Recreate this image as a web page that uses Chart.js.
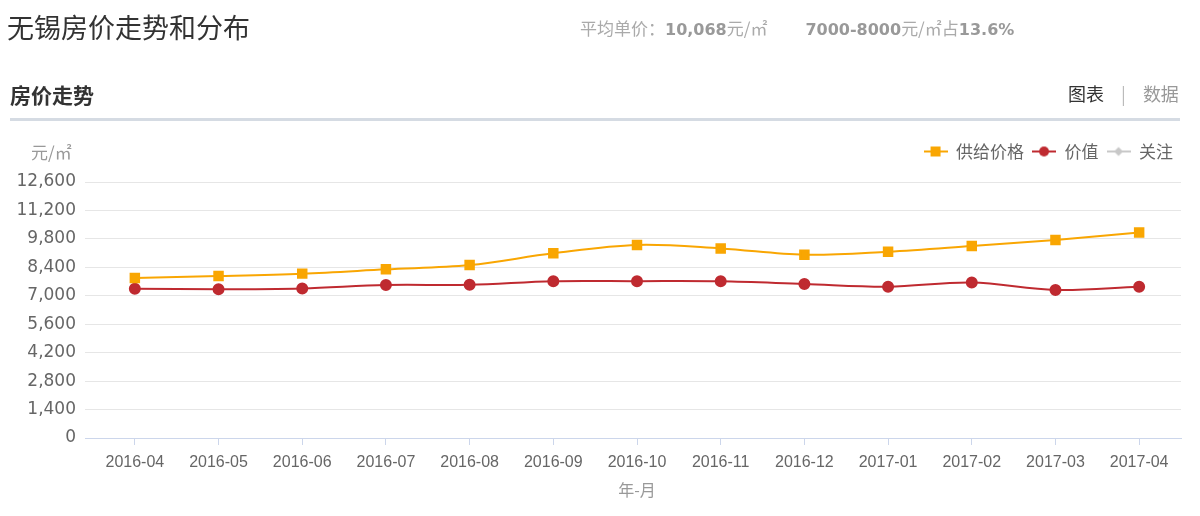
<!DOCTYPE html>
<html>
<head>
<meta charset="utf-8">
<script src="https://cdn.jsdelivr.net/npm/chart.js@4/dist/chart.umd.min.js"></script>
<style>
  html, body { margin: 0; padding: 0; background: #fff; }
  body { width: 1200px; height: 516px; position: relative; overflow: hidden; font-family: "Noto Sans CJK SC", sans-serif; }
  #wrap { position: absolute; left: 0; top: 0; width: 1200px; height: 516px; }
  .abs { position: absolute; white-space: nowrap; }
  #title { left: 7px; top: 9px; font-size: 27px; color: #333; line-height: 36px; }
  #stats { left: 580px; top: 16px; font-size: 17px; color: #aaa; line-height: 24px; }
  #stats b { font-family: "DejaVu Sans", sans-serif; font-weight: bold; color: #999; font-size: 16px; }
  #stats .gap { display: inline-block; width: 38px; }
  #sub { left: 10px; top: 80px; font-size: 21px; font-weight: bold; color: #333; line-height: 28px; }
  #tabs { left: 1068px; top: 80px; font-size: 18px; line-height: 26px; color: #333; }
  #tabs .sep { color: #bbb; margin: 0 17px; }
  #tabs .off { color: #999; }
  #rule { left: 10px; top: 118px; width: 1170px; height: 3px; background: #d5dbe3; }
  #unit { left: 31px; top: 141px; font-size: 17px; color: #999; line-height: 22px; }
</style>
</head>
<body>
<div id="wrap"><canvas id="c" width="1200" height="516"></canvas></div>
<div class="abs" id="title">无锡房价走势和分布</div>
<div class="abs" id="stats">平均单价：<b>10,068</b>元/㎡<span class="gap"></span><b>7000-8000</b>元/㎡占<b>13.6%</b></div>
<div class="abs" id="sub">房价走势</div>
<div class="abs" id="tabs">图表<span class="sep">|</span><span class="off">数据</span></div>
<div class="abs" id="rule"></div>
<div class="abs" id="unit">元/㎡</div>
<script>
const categories = ["2016-04","2016-05","2016-06","2016-07","2016-08","2016-09","2016-10","2016-11","2016-12","2017-01","2017-02","2017-03","2017-04"];
const supplyPrice = [7880, 7970, 8090, 8300, 8510, 9090, 9500, 9330, 9020, 9170, 9450, 9750, 10120];
const valuePrice  = [7350, 7320, 7360, 7530, 7540, 7720, 7720, 7710, 7580, 7450, 7650, 7290, 7450];
const attention   = [null, null, null, null, null, null, null, null, null, null, null, null, null];
const seriesNames = ["供给价格", "价值", "关注"];
const yTicks = [0, 1400, 2800, 4200, 5600, 7000, 8400, 9800, 11200, 12600];

const ORANGE = "#f9a602", RED = "#bf2a30", GRAY = "#c8c8c8";

function icon(color, shape) {
  const c = document.createElement("canvas");
  c.width = 24; c.height = 12;
  const g = c.getContext("2d");
  g.strokeStyle = color; g.fillStyle = color; g.lineWidth = 2;
  g.beginPath(); g.moveTo(0, 6); g.lineTo(24, 6); g.stroke();
  g.beginPath();
  if (shape === "rect") g.rect(7, 1, 10, 10);
  else if (shape === "circle") g.arc(12, 6, 5, 0, Math.PI * 2);
  else { g.moveTo(12, 1.5); g.lineTo(16.5, 6); g.lineTo(12, 10.5); g.lineTo(7.5, 6); g.closePath(); }
  g.fill();
  return c;
}
const icons = [icon(ORANGE, "rect"), icon(RED, "circle"), icon(GRAY, "diamond")];

new Chart(document.getElementById("c"), {
  type: "line",
  data: {
    labels: categories,
    datasets: [
      { label: seriesNames[0], data: supplyPrice, borderColor: ORANGE, backgroundColor: ORANGE,
        borderWidth: 2, pointStyle: "rect", pointRadius: 6, tension: 0.35 },
      { label: seriesNames[1], data: valuePrice, borderColor: RED, backgroundColor: RED,
        borderWidth: 2, pointStyle: "circle", pointRadius: 5, tension: 0.35 },
      { label: seriesNames[2], data: attention, borderColor: GRAY, backgroundColor: GRAY,
        borderWidth: 2, pointStyle: "rectRot", pointRadius: 5, tension: 0.35 }
    ]
  },
  options: {
    responsive: false,
    animation: false,
    layout: { padding: { top: 135, right: 19, left: 0, bottom: 0 } },
    plugins: {
      tooltip: { enabled: false },
      title: { display: true, text: "", weight: 500, padding: 0, font: { size: 12, lineHeight: 1 } },
      legend: {
        position: "top", align: "end", weight: 1000,
        labels: {
          usePointStyle: true,
          pointStyleWidth: 24,
          boxHeight: 12,
          padding: 8,
          color: "#666",
          font: { family: "'Noto Sans CJK SC'", size: 17 },
          generateLabels: (chart) => chart.data.datasets.map((ds, i) => ({
            text: ds.label, pointStyle: icons[i], fillStyle: ds.backgroundColor,
            strokeStyle: ds.borderColor, lineWidth: 0, hidden: false, datasetIndex: i, fontColor: "#666"
          }))
        }
      }
    },
    scales: {
      x: {
        offset: true,
        afterFit: (s) => { s.height = 78; },
        grid: { drawOnChartArea: false, drawTicks: true, tickLength: 7, offset: false, color: "#ccd6eb" },
        border: { color: "#ccd6eb", width: 1 },
        ticks: { color: "#666", font: { family: "'Liberation Sans'", size: 16 }, padding: 8, maxRotation: 0, autoSkip: false },
        title: { display: true, text: "年-月", color: "#999", font: { family: "'Noto Sans CJK SC'", size: 16 }, padding: { top: 16, bottom: 16 } }
      },
      y: {
        min: 0, max: 12600,
        afterFit: (s) => { s.width = 93; },
        afterBuildTicks: (s) => { s.ticks = yTicks.map(v => ({ value: v })); },
        grid: { color: (ctx) => ctx.tick && ctx.tick.value === 0 ? "#ccd6eb" : "#e6e6e6", tickLength: 8, lineWidth: 1 },
        border: { display: false },
        ticks: {
          color: "#666", font: { family: "'DejaVu Sans'", size: 17 }, padding: 9,
          callback: (v) => v.toLocaleString("en-US")
        }
      }
    }
  }
});
</script>
</body>
</html>
